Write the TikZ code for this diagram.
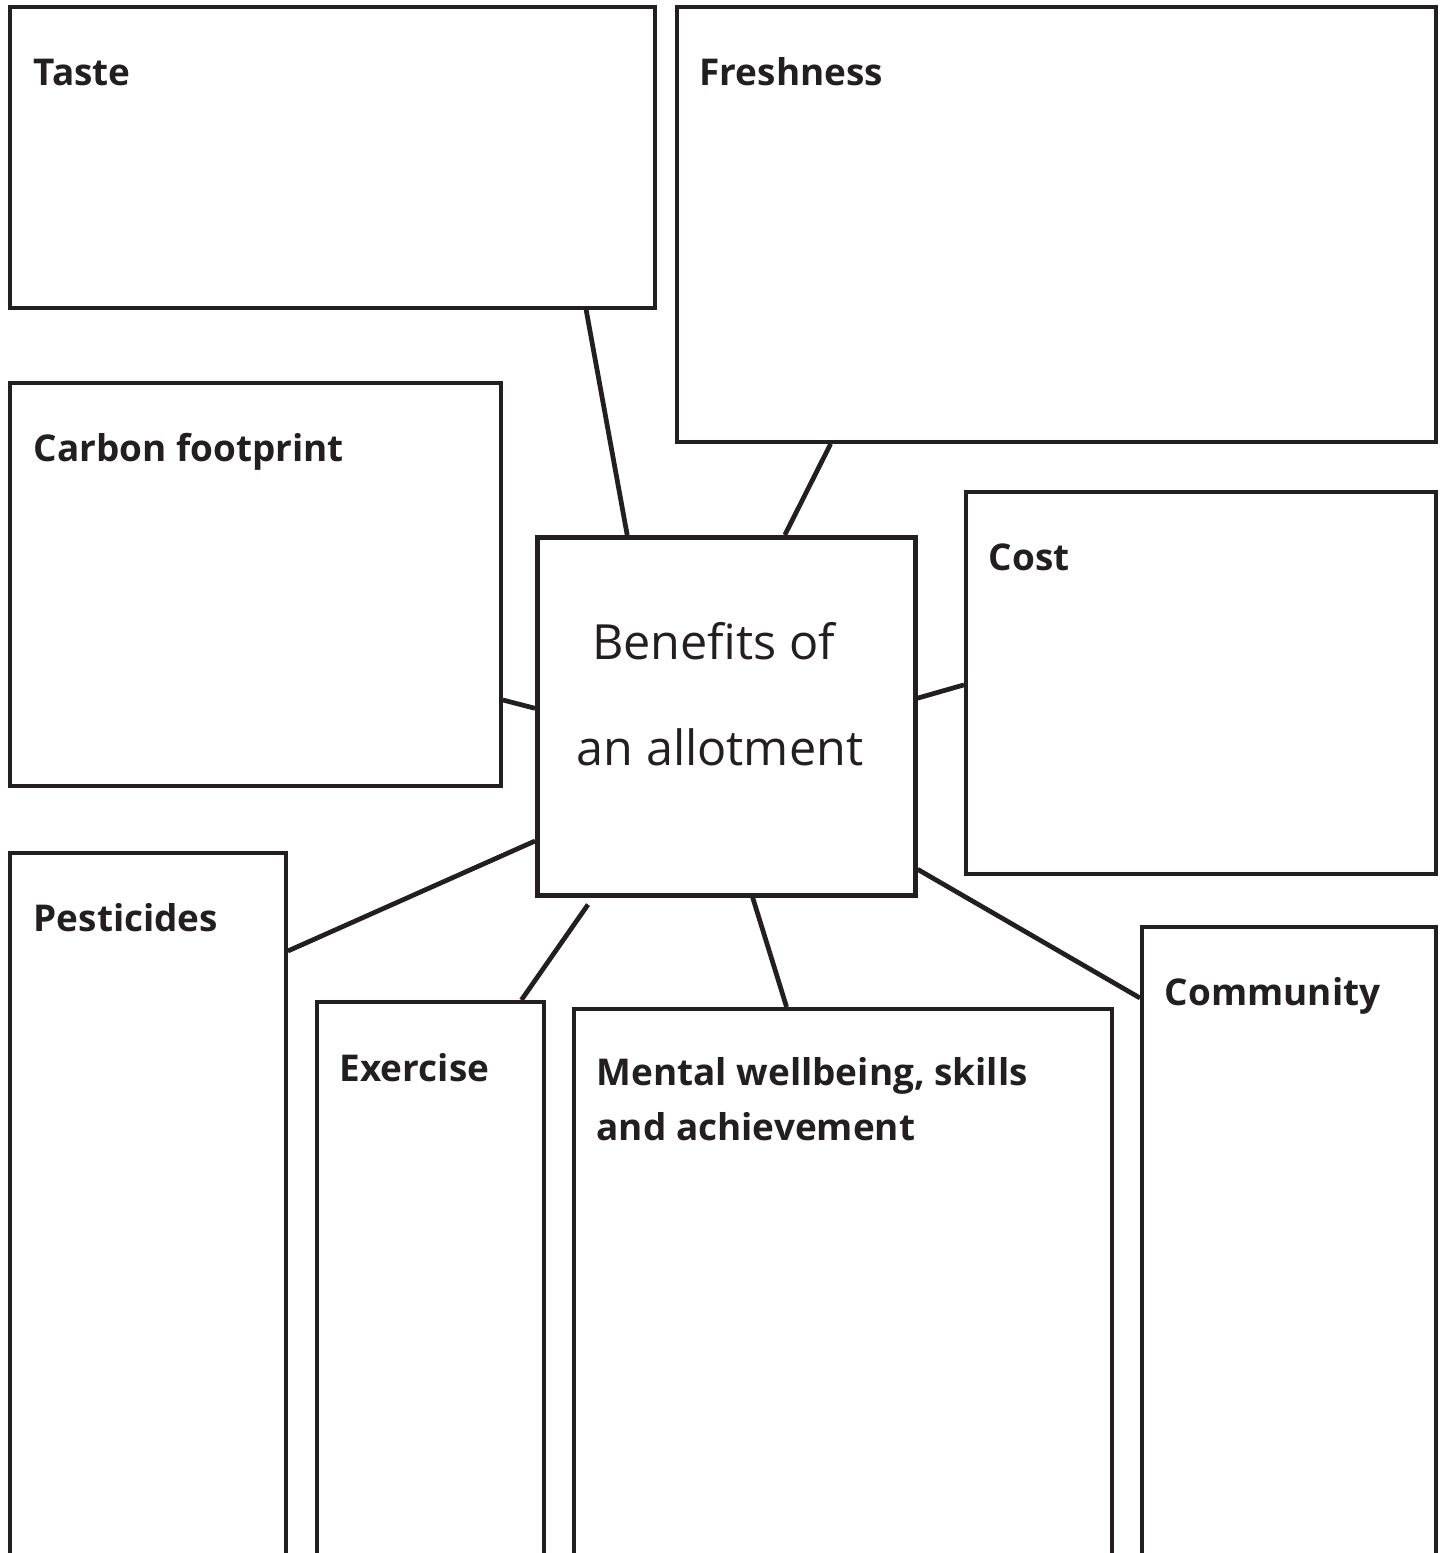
\documentclass[tikz,border=0pt]{standalone}
\usepackage{fontspec}
\setmainfont{Open Sans}
\usetikzlibrary{calc}
\definecolor{ink}{HTML}{231F20}

\tikzset{
  box/.style={draw=ink, line width=1.1pt, rectangle, anchor=north west, inner sep=0pt},
  hub/.style={draw=ink, line width=1.3pt, rectangle, anchor=north west, inner sep=0pt,
    minimum width=3.78cm, minimum height=3.58cm},
  lbl/.style={anchor=base west, inner sep=0pt, text=ink, align=left,
    font=\fontsize{10.5}{15.6}\selectfont\bfseries},
  link/.style={draw=ink, line width=1.35pt}
}

\begin{document}
\begin{tikzpicture}

% Fix the page size
\clip (0,0) rectangle (14.43,-15.53);
\useasboundingbox (0,0) rectangle (14.43,-15.53);

% Draw the centre box
\node[hub] (centre) at (5.35,-5.35) {};
\node[anchor=base, inner sep=0pt, text=ink, align=center,
  font=\fontsize{13.8}{29.9}\selectfont] (centretxt) at (7.20,-7.65)
  {Benefits of\ \mbox{}\\an allotment};

% Draw the outer boxes
\node[box, minimum width=6.45cm, minimum height=3.01cm] (taste) at (0.08,-0.05) {};
\node[box, minimum width=7.59cm, minimum height=4.35cm] (fresh) at (6.75,-0.05) {};
\node[box, minimum width=4.91cm, minimum height=4.03cm] (carbon) at (0.08,-3.81) {};
\node[box, minimum width=4.70cm, minimum height=3.82cm] (cost) at (9.64,-4.90) {};
\node[box, minimum width=2.76cm, minimum height=8cm] (pest) at (0.08,-8.51) {};
\node[box, minimum width=2.27cm, minimum height=8cm] (exer) at (3.15,-10.00) {};
\node[box, minimum width=5.38cm, minimum height=8cm] (mental) at (5.72,-10.07) {};
\node[box, minimum width=2.94cm, minimum height=8cm] (comm) at (11.40,-9.25) {};

% Label the outer boxes
\node[lbl] (tastelbl) at ($(taste.north west)+(0.25,-0.80)$) {Taste};
\node[lbl] (freshlbl) at ($(fresh.north west)+(0.24,-0.80)$) {Freshness};
\node[lbl] (carbonlbl) at ($(carbon.north west)+(0.25,-0.80)$) {Carbon footprint};
\node[lbl] (costlbl) at ($(cost.north west)+(0.24,-0.80)$) {Cost};
\node[lbl] (pestlbl) at ($(pest.north west)+(0.25,-0.80)$) {Pesticides};
\node[lbl] (exerlbl) at ($(exer.north west)+(0.24,-0.81)$) {Exercise};
\node[lbl] (mentallbl) at ($(mental.north west)+(0.24,-1.33)$) {Mental wellbeing, skills\\and achievement};
\node[lbl] (commlbl) at ($(comm.north west)+(0.24,-0.80)$) {Community};

% Draw the connectors
\coordinate (exend) at ($(centre.south west)+(0.53,-0.07)$);
\draw[link] ($(taste.south west)!0.891!(taste.south east)$) -- ($(centre.north west)!0.241!(centre.north east)$);
\draw[link] ($(fresh.south west)!0.204!(fresh.south east)$) -- ($(centre.north west)!0.653!(centre.north east)$);
\draw[link] ($(carbon.north east)!0.784!(carbon.south east)$) -- ($(centre.north west)!0.478!(centre.south west)$);
\draw[link] ($(cost.north west)!0.505!(cost.south west)$) -- ($(centre.north east)!0.450!(centre.south east)$);
\draw[link] ($(pest.north east)+(0,-1.00)$) -- ($(centre.north west)!0.844!(centre.south west)$);
\draw[link] ($(exer.north west)!0.894!(exer.north east)$) -- (exend);
\draw[link] ($(mental.north west)!0.396!(mental.north east)$) -- ($(centre.south west)!0.569!(centre.south east)$);
\draw[link] ($(comm.north west)+(0,-0.73)$) -- ($(centre.north east)!0.922!(centre.south east)$);

\end{tikzpicture}
\end{document}
